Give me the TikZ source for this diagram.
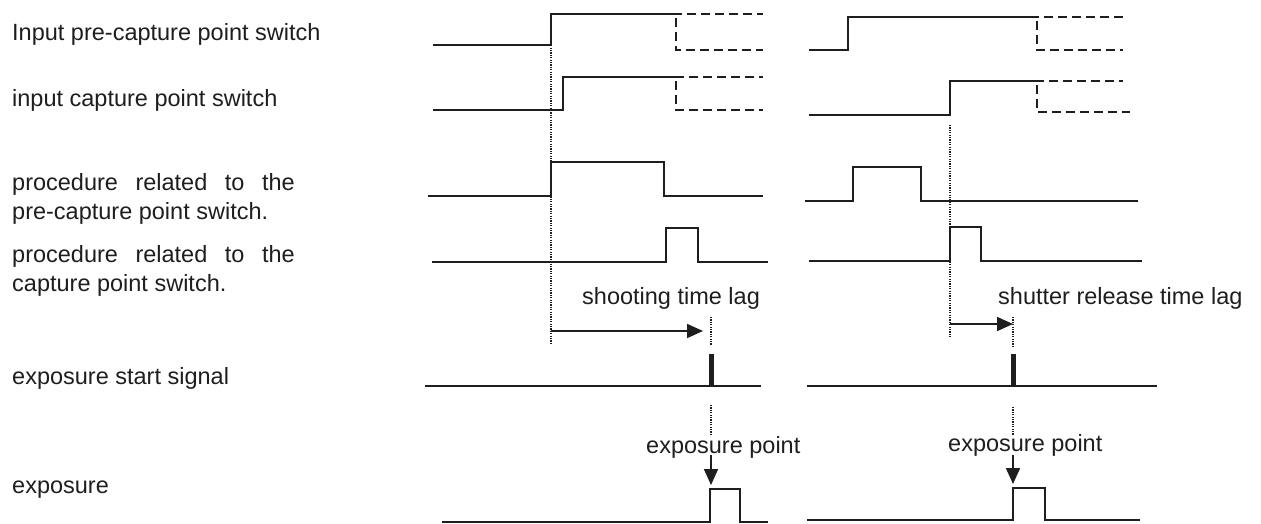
\documentclass[tikz,border=0pt]{standalone}
\usepackage{fontspec}
\setmainfont{Liberation Sans}
\usetikzlibrary{arrows.meta}
\definecolor{ink}{HTML}{1E1E1E}
\begin{document}
\begin{tikzpicture}[x=1pt,y=-1pt,
  wave/.style={line width=1.8pt, draw=ink, line join=miter},
  dashwave/.style={line width=1.8pt, draw=ink, dash pattern=on 9pt off 5pt},
  dotline/.style={line width=1.3pt, draw=ink, dash pattern=on 1.2pt off 1.2pt},
  pulse/.style={line width=5pt, draw=ink},
  arr/.style={line width=1.8pt, draw=ink, -{Triangle[length=16pt,width=14pt]}},
  lbl/.style={anchor=base west, inner sep=0pt, font=\fontsize{23.5}{28}\selectfont, text=ink}]
\useasboundingbox (0,0) rectangle (1261,524);
\fill[white] (0,0) rectangle (1261,524);

% labels
\node[lbl] (t1) at (12,41) {Input pre-capture point switch};
\node[lbl] (t2) at (12,107) {input capture point switch};
\node[lbl] (t3a) at (12,190) {procedure\hspace{11pt} related\hspace{11pt} to\hspace{11pt} the};
\node[lbl] (t3b) at (12,219) {pre-capture point switch.};
\node[lbl] (t4a) at (12,262) {procedure\hspace{11pt} related\hspace{11pt} to\hspace{11pt} the};
\node[lbl] (t4b) at (12,291) {capture point switch.};
\node[lbl] (t5) at (12,384) {exposure start signal};
\node[lbl] (t6) at (12,493) {exposure};

% ---------- left panel ----------
\draw[wave] (433,45) -- (551,45) -- (551,14) -- (673,14);
\draw[dashwave] (673,14) -- (763,14);
\draw[dashwave] (676,18) -- (676,50) -- (763,50);

\draw[wave] (433,110) -- (563,110) -- (563,77) -- (675,77);
\draw[dashwave] (675,77) -- (763,77);
\draw[dashwave] (676,81) -- (676,110) -- (763,110);

\draw[wave] (428,196) -- (551,196) -- (551,162) -- (664,162) -- (664,196) -- (763,196);
\draw[wave] (432,262) -- (666,262) -- (666,228) -- (698,228) -- (698,262) -- (768,262);

\coordinate (L0top) at (551,14);
\coordinate (L0bot) at (551,345);
\draw[dotline] (L0top) -- (L0bot);

\node[lbl] (lagL) at (582,304) {shooting time lag};
\coordinate (aLs) at (551,331);
\coordinate (aLe) at (703,331);
\draw[arr] (aLs) -- (aLe);
\draw[dotline] (711,317) -- (711,345);

\draw[wave] (425,386) -- (761,386);
\draw[pulse] (711,354) -- (711,386);

\draw[dotline] (711,405) -- (711,435);
\node[lbl] (epL) at (646,453) {exposure point};
\coordinate (eLs) at (711,455);
\coordinate (eLe) at (711,485);
\draw[arr] (eLs) -- (eLe);

\draw[wave] (442,522) -- (710,522) -- (710,489) -- (740,489) -- (740,522) -- (768,522);

% ---------- right panel ----------
\draw[wave] (809,50) -- (848,50) -- (848,17) -- (1030,17);
\draw[dashwave] (1030,17) -- (1123,17);
\draw[dashwave] (1037,21) -- (1037,50) -- (1123,50);

\draw[wave] (809,115) -- (950,115) -- (950,81) -- (1035,81);
\draw[dashwave] (1035,81) -- (1123,81);
\draw[dashwave] (1037,85) -- (1037,112) -- (1130,112);

\draw[wave] (805,201) -- (853,201) -- (853,167) -- (921,167) -- (921,201) -- (1138,201);
\draw[wave] (809,261) -- (950,261) -- (950,227) -- (981,227) -- (981,261) -- (1142,261);

\coordinate (R0top) at (950,125);
\coordinate (R0bot) at (950,338);
\draw[dotline] (R0top) -- (R0bot);

\node[lbl] (lagR) at (998,304) {shutter release time lag};
\coordinate (aRs) at (950,324);
\coordinate (aRe) at (1013,324);
\draw[arr] (aRs) -- (aRe);
\draw[dotline] (1013,317) -- (1013,347);

\draw[wave] (807,386) -- (1157,386);
\draw[pulse] (1013,354) -- (1013,386);

\draw[dotline] (1013,407) -- (1013,435);
\node[lbl] (epR) at (948,451) {exposure point};
\coordinate (eRs) at (1013,455);
\coordinate (eRe) at (1013,484);
\draw[arr] (eRs) -- (eRe);

\draw[wave] (807,520) -- (1013,520) -- (1013,488) -- (1045,488) -- (1045,520) -- (1140,520);
\end{tikzpicture}
\end{document}
